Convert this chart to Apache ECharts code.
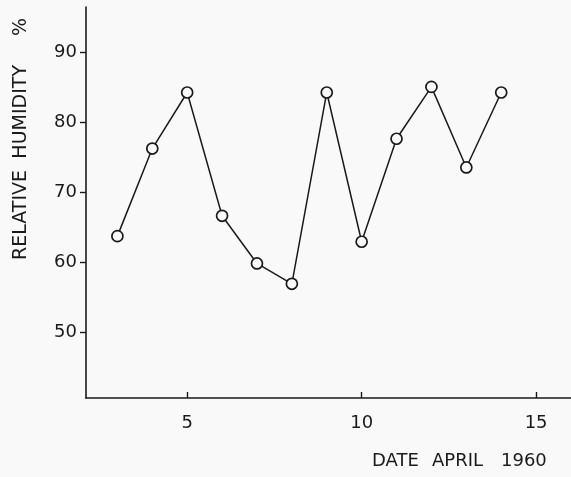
<!DOCTYPE html>
<html>
<head>
<meta charset="utf-8">
<script src="https://cdn.jsdelivr.net/npm/echarts@6/dist/echarts.min.js"></script>
<style>
html,body{margin:0;padding:0;background:#f8f9f8;}
#c{width:571px;height:477px;}
</style>
</head>
<body>
<div id="c"></div>
<script>
const dates = [3, 4, 5, 6, 7, 8, 9, 10, 11, 12, 13, 14];
const humidity = [63.7, 76.2, 84.2, 66.6, 59.8, 56.9, 84.2, 62.9, 77.6, 85.0, 73.5, 84.2];
const xTicks = [5, 10, 15];
const yTicks = [50, 60, 70, 80, 90];
const yTitleWords = ['%', 'HUMIDITY', 'RELATIVE'];
const xTitleWords = ['DATE', 'APRIL', '1960'];

const ink = '#1a1a1a';
const font = '"DejaVu Sans", sans-serif';

// layout positions for title words
const yWordTops = [18, 65, 170];
const xWordLefts = [372, 432, 501];

const graphics = [];
yTitleWords.forEach((w, i) => graphics.push({
  type: 'text', left: 12, top: yWordTops[i], rotation: Math.PI / 2, originX: 0, originY: 0,
  style: {text: w, fill: ink, font: '19px ' + font}, z: 10
}));
xTitleWords.forEach((w, i) => graphics.push({
  type: 'text', left: xWordLefts[i], top: 452,
  style: {text: w, fill: ink, font: '18px ' + font}, z: 10
}));

const chart = echarts.init(document.getElementById('c'), null, {renderer: 'canvas'});
chart.setOption({
  backgroundColor: '#f8f9f8',
  animation: false,
  grid: {left: 86, right: 0, top: 7, bottom: 79, containLabel: false},
  xAxis: {
    type: 'value', min: 2.1, max: 16,
    splitLine: {show: false},
    axisLine: {show: true, onZero: false, lineStyle: {color: ink, width: 1.6}},
    axisTick: {show: true, inside: true, length: 6, customValues: xTicks, lineStyle: {color: ink, width: 1.4}},
    axisLabel: {customValues: xTicks, margin: 16, color: ink, fontSize: 18, fontFamily: font}
  },
  yAxis: {
    type: 'value', min: 40.6, max: 96.4,
    splitLine: {show: false},
    axisLine: {show: true, onZero: false, lineStyle: {color: ink, width: 1.6}},
    axisTick: {show: true, inside: false, length: 6, customValues: yTicks, lineStyle: {color: ink, width: 1.4}},
    axisLabel: {customValues: yTicks, margin: 9, color: ink, fontSize: 18, fontFamily: font}
  },
  series: [{
    type: 'line',
    data: dates.map((d, i) => [d, humidity[i]]),
    symbol: 'circle',
    symbolSize: 11,
    showAllSymbol: true,
    lineStyle: {color: ink, width: 1.5},
    itemStyle: {color: '#f8f9f8', borderColor: ink, borderWidth: 1.7}
  }],
  graphic: graphics
});
</script>
</body>
</html>
